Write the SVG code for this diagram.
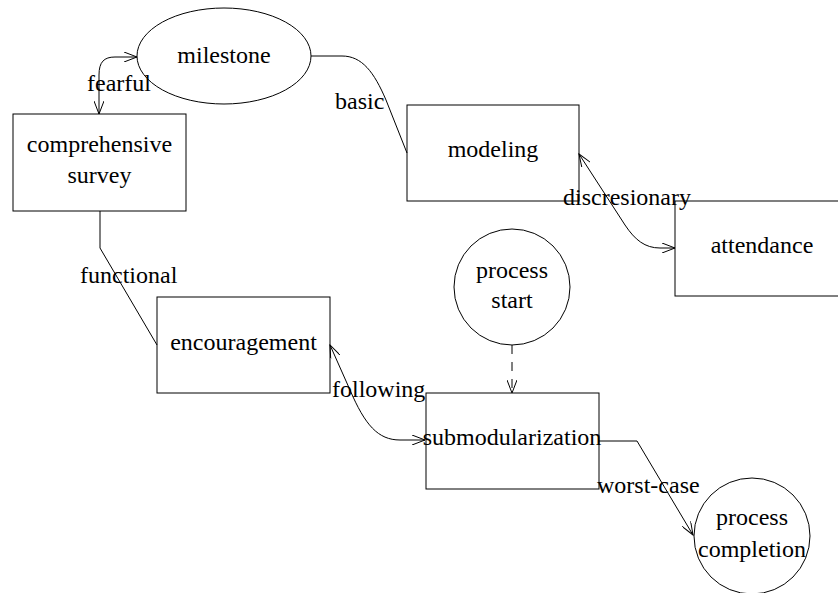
<svg xmlns="http://www.w3.org/2000/svg" width="838" height="593" viewBox="0 0 838 593">
<style>
  .box { fill: none; stroke: #000; stroke-width: 1; }
  .ell { fill: none; stroke: #000; stroke-width: 1; }
  .edge { fill: none; stroke: #000; stroke-width: 1; }
  .dash { stroke-dasharray: 9 8; }
  text { font-family: "Liberation Serif", "Times New Roman", serif; font-size: 24px; fill: #000; }
  .c { text-anchor: middle; }
</style>
<defs>
  <marker id="arr" viewBox="0 0 14 10" refX="13" refY="5" markerWidth="14" markerHeight="10" markerUnits="userSpaceOnUse" orient="auto-start-reverse">
    <path d="M0,0 L13,5 L0,10" fill="none" stroke="#000" stroke-width="1"/>
  </marker>
</defs>
<g id="connectors">
  <path class="edge" d="M99,114 L99,75 C99,62 104,57 115,57 L137,57" marker-start="url(#arr)" marker-end="url(#arr)"/>
  <path class="edge" d="M311,56 L342,56 C362,56 374,72 386,100 L407,153"/>
  <path class="edge" d="M579,154 L625,225 C635,240 645,248 660,248 L675,248" marker-start="url(#arr)" marker-end="url(#arr)"/>
  <path class="edge" d="M100,211 L100,248 L157,345"/>
  <path class="edge" d="M330,345 L350,390 C365,425 378,440 400,440 L425,440" marker-start="url(#arr)" marker-end="url(#arr)"/>
  <path class="edge dash" d="M512,345 L512,393" marker-end="url(#arr)"/>
  <path class="edge" d="M599,441 L637,441 L693,535" marker-end="url(#arr)"/>
  <text x="87" y="91">fearful</text>
  <text x="335" y="109">basic</text>
  <text x="563" y="205">discresionary</text>
  <text x="80" y="283">functional</text>
  <text x="332" y="397">following</text>
  <text x="597" y="493">worst-case</text>
</g>
<g id="milestone">
  <ellipse class="ell" cx="224" cy="56" rx="87" ry="48"/>
  <text class="c" x="224" y="63">milestone</text>
</g>
<g id="comprehensive-survey">
  <rect class="box" x="13" y="114" width="173" height="97"/>
  <text class="c" x="99.5" y="152">comprehensive</text>
  <text class="c" x="99.5" y="183">survey</text>
</g>
<g id="modeling">
  <rect class="box" x="407" y="105" width="172" height="96"/>
  <text class="c" x="493" y="157">modeling</text>
</g>
<g id="attendance">
  <rect class="box" x="675" y="201" width="174" height="95"/>
  <text class="c" x="762" y="253">attendance</text>
</g>
<g id="process-start">
  <circle class="ell" cx="512" cy="287" r="58"/>
  <text class="c" x="512" y="278">process</text>
  <text class="c" x="512" y="308">start</text>
</g>
<g id="encouragement">
  <rect class="box" x="157" y="297" width="173" height="96"/>
  <text class="c" x="243.5" y="350">encouragement</text>
</g>
<g id="submodularization">
  <rect class="box" x="426" y="393" width="173" height="96"/>
  <text class="c" x="512" y="445">submodularization</text>
</g>
<g id="process-completion">
  <circle class="ell" cx="752" cy="536" r="58"/>
  <text class="c" x="752" y="525">process</text>
  <text class="c" x="752" y="557">completion</text>
</g>
</svg>
